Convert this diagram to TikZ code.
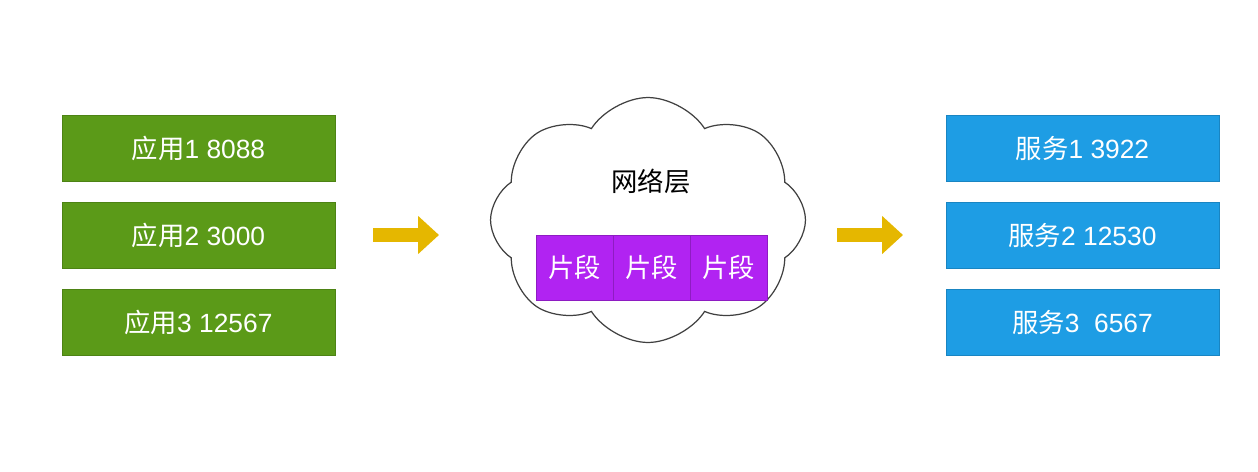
\documentclass[tikz,border=0pt]{standalone}
\usepackage{fontspec}
\usepackage{tikz}
\usepackage{xcolor}
\usetikzlibrary{shapes.symbols,arrows.meta}
\setmainfont{Liberation Sans}
\newfontfamily\cjk{Noto Sans CJK SC}

\definecolor{appgreen}{HTML}{5B9A18}
\definecolor{svcblue}{HTML}{1E9DE4}
\definecolor{segpurple}{HTML}{B123F2}
\definecolor{arrowgold}{HTML}{E5B700}

\begin{document}
\begin{tikzpicture}[x=0.02cm, y=-0.02cm,
  every node/.style={font=\fontsize{15}{18}\selectfont},
  app/.style={rectangle, fill=appgreen, draw=appgreen!85!black, text=white, minimum width=5.46cm, minimum height=1.32cm, inner sep=0pt},
  svc/.style={rectangle, fill=svcblue, draw=svcblue!85!black, text=white, minimum width=5.46cm, minimum height=1.32cm, inner sep=0pt},
  seg/.style={rectangle, fill=segpurple, draw=segpurple!80!black, text=white, minimum width=1.54cm, minimum height=1.3cm, inner sep=0pt},
  flow/.style={line width=0.28cm, arrowgold, -{Triangle[length=0.42cm, width=0.74cm]}}]
\useasboundingbox (0,0) rectangle (1258,471);

\node[app] (app1) at (198.5,148) {{\cjk 应用}1 8088};
\node[app] (app2) at (198.5,235) {{\cjk 应用}2 3000};
\node[app] (app3) at (198.5,322) {{\cjk 应用}3 12567};

\node[svc] (svc1) at (1082.5,148) {{\cjk 服务}1 3922};
\node[svc] (svc2) at (1082.5,235) {{\cjk 服务}2 12530};
\node[svc] (svc3) at (1082.5,322) {{\cjk 服务}3\ \ 6567};

\node[cloud, draw=black!75, line width=0.7pt, cloud puffs=8, cloud puff arc=115, minimum width=6.3cm, minimum height=4.9cm, inner sep=0pt] (net) at (648,220) {};
\node (netlabel) at (651,181) {\cjk 网络层};

\node[seg] (seg1) at (574.5,267.5) {\cjk 片段};
\node[seg] (seg2) at (651.5,267.5) {\cjk 片段};
\node[seg] (seg3) at (728.5,267.5) {\cjk 片段};

\coordinate (inA) at (373,235);
\coordinate (inB) at (439,235);
\coordinate (outA) at (837,235);
\coordinate (outB) at (903,235);
\draw[flow] (inA) -- (inB);
\draw[flow] (outA) -- (outB);
\end{tikzpicture}
\end{document}
